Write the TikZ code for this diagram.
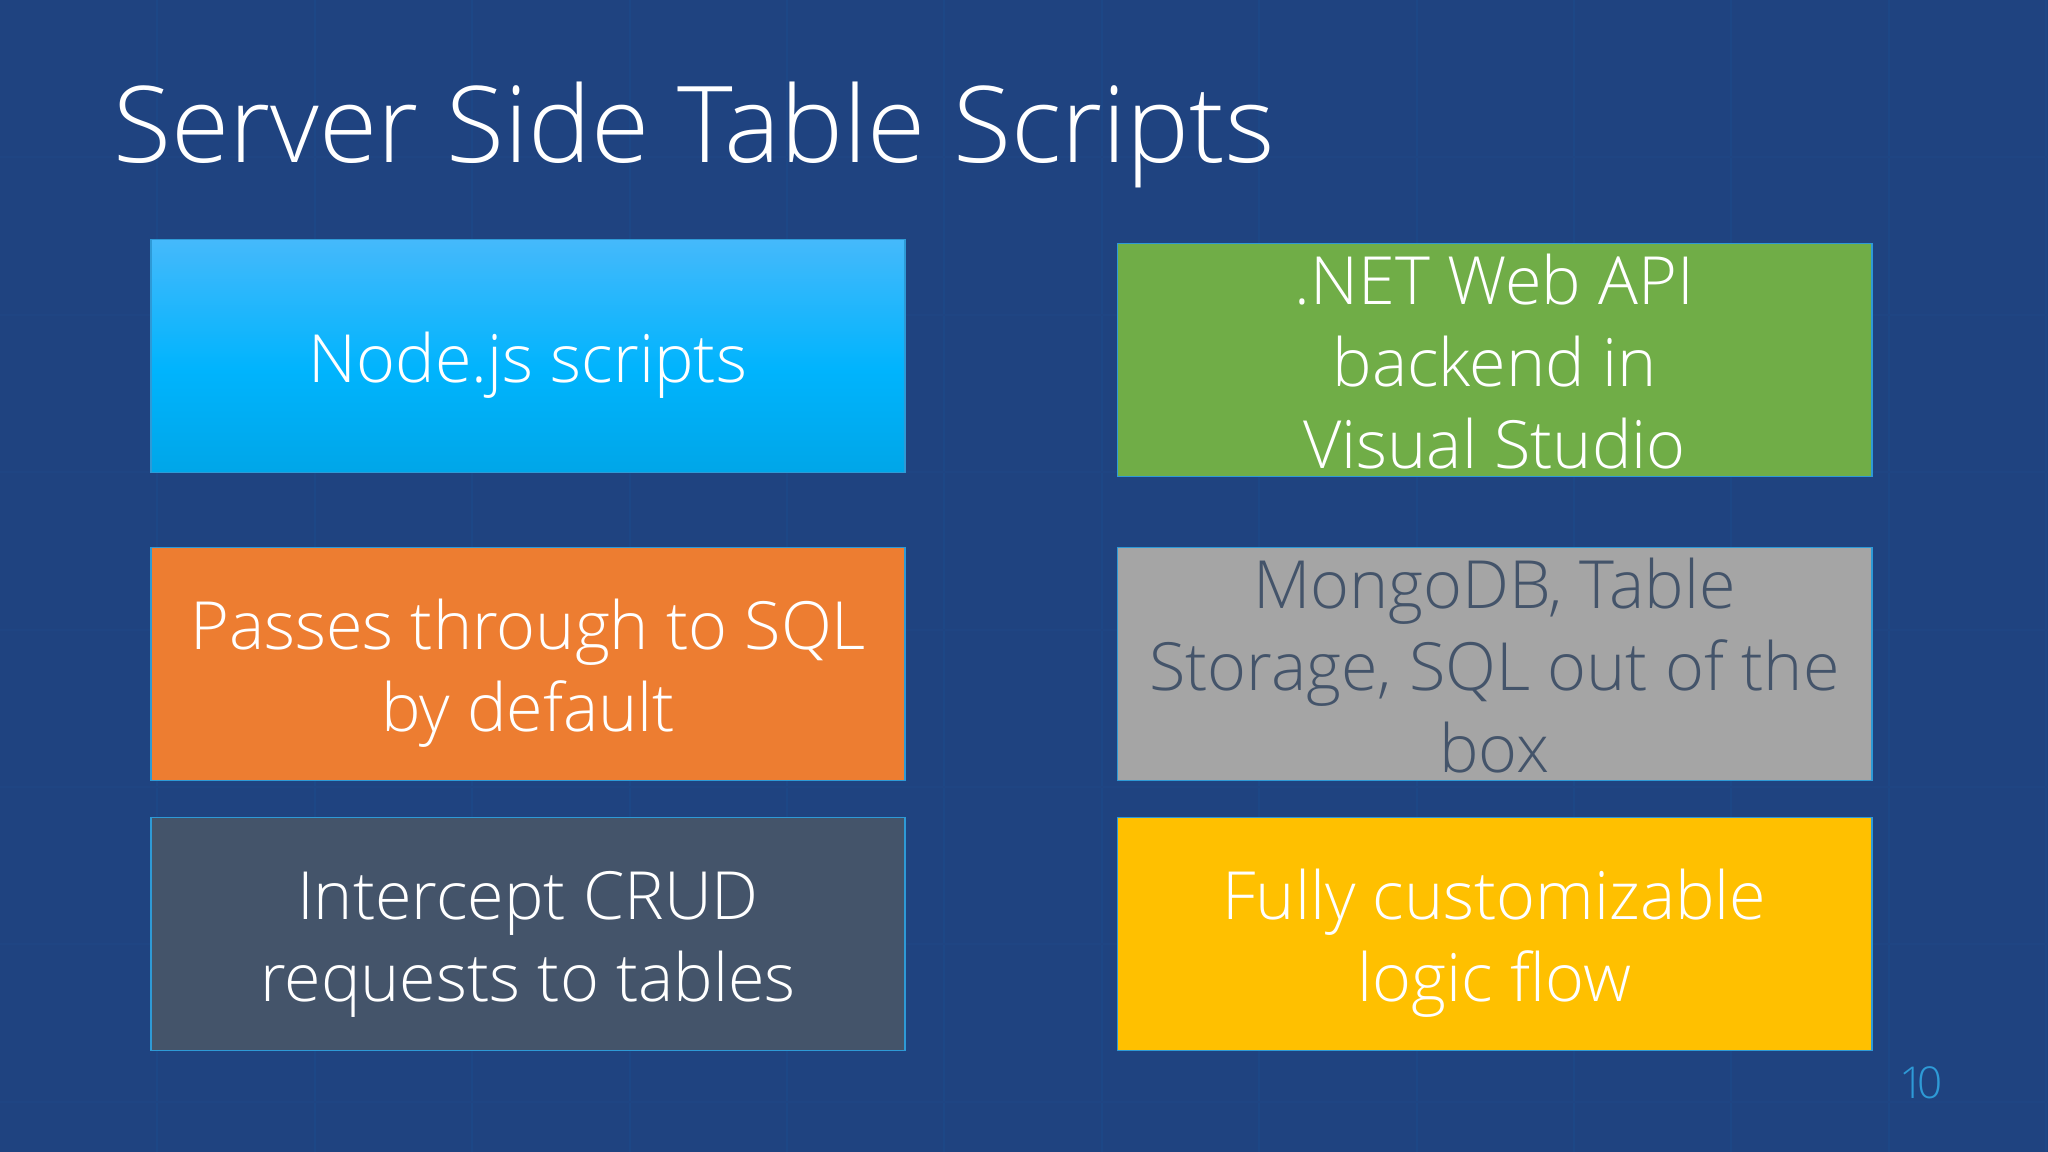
\documentclass[tikz,border=0pt]{standalone}
\usepackage{fontspec}
\setmainfont{Open Sans Light}
\usetikzlibrary{positioning}
\definecolor{slidebg}{HTML}{1F4380}
\definecolor{gridline}{HTML}{1D4786}
\definecolor{gridfaint}{HTML}{1F4583}
\definecolor{boxedge}{HTML}{2E9AD6}
\definecolor{skytop}{HTML}{45B9FB}
\definecolor{skymid}{HTML}{00B4FD}
\definecolor{skylow}{HTML}{00A6E8}
\definecolor{orangebox}{HTML}{ED7D31}
\definecolor{greenbox}{HTML}{70AD47}
\definecolor{greybox}{HTML}{A5A5A5}
\definecolor{slatebox}{HTML}{44546A}
\definecolor{yellowbox}{HTML}{FFC000}
\pgfdeclareverticalshading{skyfade}{100bp}{color(0bp)=(skylow); color(25bp)=(skylow); color(47bp)=(skymid); color(75bp)=(skytop); color(100bp)=(skytop)}
\newcommand{\dropline}{\rule{0pt}{19.8pt}}
\newcommand{\nudgeline}{\rule{0pt}{15.3pt}}
\tikzset{
    tile/.style={draw=boxedge, line width=0.45pt, inner sep=0pt, text=white, align=center,
        minimum width=7.54cm, minimum height=2.33cm,
        font=\fontsize{18.9}{23.3}\selectfont},
}

\begin{document}
\begin{tikzpicture}[x=0.01cm, y=-0.01cm]
    % Background and faint grid
    \fill[slidebg] (0,0) rectangle (2048,1152);
    \useasboundingbox (0,0) rectangle (2048,1152);
    \foreach \k in {1,...,13}
        \draw[gridline, line width=0.6pt] (157.4*\k,0) -- (157.4*\k,1152);
    \foreach \k in {1,...,7}
        \draw[gridfaint, line width=0.6pt] (0,157.4*\k) -- (2048,157.4*\k);

    % Title
    \node[anchor=base west, inner sep=0pt, text=white, font=\fontsize{30.15}{36}\selectfont] (title) at (113,163) {Server Side Table Scripts};

    % Left column
    \node[tile, shading=skyfade] (nodejs) at (528,356) {\dropline Node.js scripts};
    \node[tile, fill=orangebox] (passes) at (528,664) {\dropline Passes through to SQL\\by default};
    \node[tile, fill=slatebox] (intercept) at (528,934) {\dropline Intercept CRUD\\requests to tables};

    % Right column
    \node[tile, fill=greenbox] (webapi) at (1494.5,360) {\nudgeline .NET Web API\\backend in\\Visual Studio};
    \node[tile, fill=greybox, text=slatebox] (mongo) at (1494.5,664) {\nudgeline MongoDB, Table\\Storage, SQL out of the\\box};
    \node[tile, fill=yellowbox] (logic) at (1494.5,934) {\dropline Fully customizable\\logic flow};

    % Slide number
    \node[text=boxedge, inner sep=0pt, font=\fontsize{12.5}{15}\selectfont] (pagenum) at (1921,1083) {1\kern-2.2pt 0};
\end{tikzpicture}
\end{document}
